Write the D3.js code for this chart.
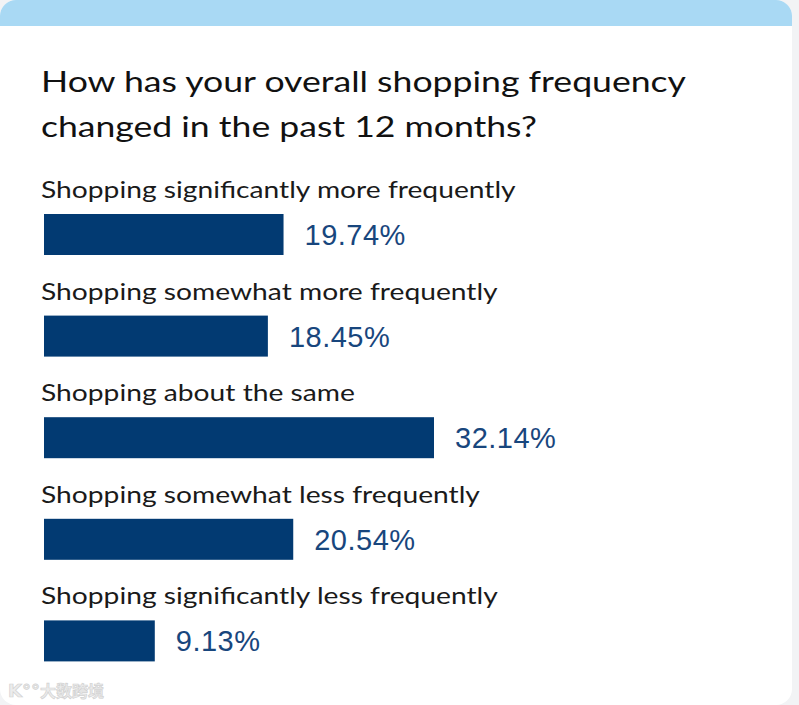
<!DOCTYPE html>
<html>
<head>
<meta charset="utf-8">
<script src="https://cdn.jsdelivr.net/npm/d3@7"></script>
<style>
  html, body { margin: 0; padding: 0; background: #f2f3f5; }
  svg { display: block; }
</style>
</head>
<body>
<script>
// Datos del gráfico
var categorias = [
    "Shopping significantly more frequently",
    "Shopping somewhat more frequently",
    "Shopping about the same",
    "Shopping somewhat less frequently",
    "Shopping significantly less frequently"
];
var valores = [19.74, 18.45, 32.14, 20.54, 9.13];
var titulo = ["How has your overall shopping frequency", "changed in the past 12 months?"];

var ancho = 799, alto = 705;

var svg = d3.select("body").append("svg")
            .attr("width", ancho)
            .attr("height", alto);

// Tarjeta blanca con banda azul arriba
var clip = svg.append("defs").append("clipPath").attr("id", "tarjeta");
clip.append("rect")
    .attr("x", 0).attr("y", 0)
    .attr("width", 792).attr("height", 705)
    .attr("rx", 16).attr("ry", 16);

var tarjeta = svg.append("g").attr("clip-path", "url(#tarjeta)");
tarjeta.append("rect")
    .attr("x", 0).attr("y", 0)
    .attr("width", 792).attr("height", 705)
    .attr("fill", "#ffffff");
tarjeta.append("rect")
    .attr("x", 0).attr("y", 0)
    .attr("width", 792).attr("height", 26)
    .attr("fill", "#a9d9f4");

// Título
svg.append("g").selectAll("text")
   .data(titulo)
   .enter().append("text")
   .attr("x", 41)
   .attr("y", function(d, i) { return 92 + i * 45; })
   .text(function(d) { return d; })
   .attr("font-family", "Lato, 'Noto Sans', sans-serif")
   .attr("font-size", "29px")
   .attr("fill", "#111111")
   .attr("textLength", function(d, i) { return i === 0 ? 645 : 496; })
   .attr("lengthAdjust", "spacingAndGlyphs");

// Escalas
var x = d3.scaleLinear()
          .domain([0, d3.max(valores)])
          .range([0, 390]);

var y = d3.scaleBand()
          .domain(categorias)
          .range([170, 678])
          .paddingInner(0)
          .paddingOuter(0);

var filas = svg.append("g").selectAll("g")
               .data(categorias)
               .enter().append("g")
               .attr("transform", function(d) { return "translate(0," + y(d) + ")"; });

// Etiquetas de categoría (la fuente original es más ancha: se estiran)
filas.append("text")
     .attr("x", 41)
     .attr("y", 28)
     .text(function(d) { return d; })
     .attr("font-family", "Lato, 'Noto Sans', sans-serif")
     .attr("font-size", "24px")
     .attr("fill", "#1a1a1a")
     .each(function() {
         var largo = this.getComputedTextLength();
         d3.select(this)
           .attr("textLength", largo * 1.175)
           .attr("lengthAdjust", "spacingAndGlyphs");
     });

// Barras
filas.append("rect")
     .attr("x", 44)
     .attr("y", 44)
     .attr("width", function(d, i) { return x(valores[i]); })
     .attr("height", 41)
     .attr("fill", "#023a72");

// Valores
filas.append("text")
     .attr("x", function(d, i) { return 44 + x(valores[i]) + 21; })
     .attr("y", 75)
     .text(function(d, i) { return valores[i].toFixed(2) + "%"; })
     .attr("font-family", "'Liberation Sans', Arial, sans-serif")
     .attr("font-size", "29px")
     .attr("letter-spacing", "0.5px")
     .attr("fill", "#18467d");

// Marca de agua
var marca = svg.append("g").attr("fill", "#ececec").attr("stroke", "#d2d2d2").attr("stroke-width", 0.7);
marca.append("text")
   .attr("x", 8)
   .attr("y", 697)
   .text("K°°")
   .attr("font-family", "'DejaVu Sans', sans-serif")
   .attr("font-size", "18px")
   .attr("font-weight", "bold");
marca.append("text")
   .attr("x", 40)
   .attr("y", 697)
   .text("大数跨境")
   .attr("font-family", "'Noto Sans CJK SC', sans-serif")
   .attr("font-size", "16px")
   .attr("font-weight", "bold");
</script>
</body>
</html>
